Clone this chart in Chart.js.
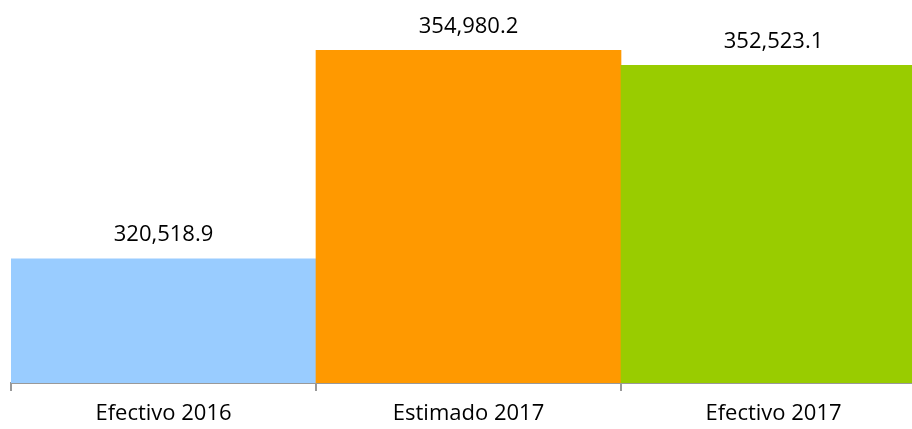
<!DOCTYPE html>
<html>
<head>
<meta charset="utf-8">
<script src="https://cdn.jsdelivr.net/npm/chart.js@4"></script>
<style>
  html, body { margin: 0; padding: 0; overflow: hidden; background: #fff; }
  #wrap { width: 940px; height: 437px; }
</style>
</head>
<body>
<div id="wrap"><canvas id="myChart"></canvas></div>
<script>
const categories = ['Efectivo 2016', 'Estimado 2017', 'Efectivo 2017'];
const values = [320518.9, 354980.2, 352523.1];
const barColors = ['#99CCFF', '#FF9900', '#99CC00'];

// value labels above each bar
const valueLabels = {
    id: 'valueLabels',
    afterDatasetsDraw(chart) {
        const ctx = chart.ctx;
        const meta = chart.getDatasetMeta(0);
        ctx.save();
        ctx.font = '22px "Open Sans"';
        ctx.fillStyle = '#000';
        ctx.textAlign = 'center';
        ctx.textBaseline = 'middle';
        meta.data.forEach((bar, i) => {
            const txt = values[i].toLocaleString('en-US', { minimumFractionDigits: 1, maximumFractionDigits: 1 });
            ctx.fillText(txt, bar.x, bar.y - 24);
        });
        ctx.restore();
    }
};

const ctx = document.getElementById('myChart');

new Chart(ctx, {
    type: 'bar',
    data: {
        labels: categories,
        datasets: [{
            data: values,
            backgroundColor: barColors,
            barPercentage: 1,
            categoryPercentage: 1
        }]
    },
    options: {
        responsive: true,
        maintainAspectRatio: false,
        animation: false,
        layout: { padding: { left: 11, right: 14, top: 20, bottom: 0 } },
        plugins: {
            legend: { display: false },
            tooltip: { enabled: false }
        },
        scales: {
            x: {
                grid: { offset: true, drawOnChartArea: false, drawTicks: true, tickLength: 8, color: '#999', lineWidth: 2 },
                border: { color: '#999', width: 2 },
                ticks: { color: '#000', font: { family: 'Open Sans', size: 22, lineHeight: 1 }, padding: 12 }
            },
            y: {
                display: false,
                min: 300000,
                max: 360000
            }
        }
    },
    plugins: [valueLabels]
});
</script>
</body>
</html>
